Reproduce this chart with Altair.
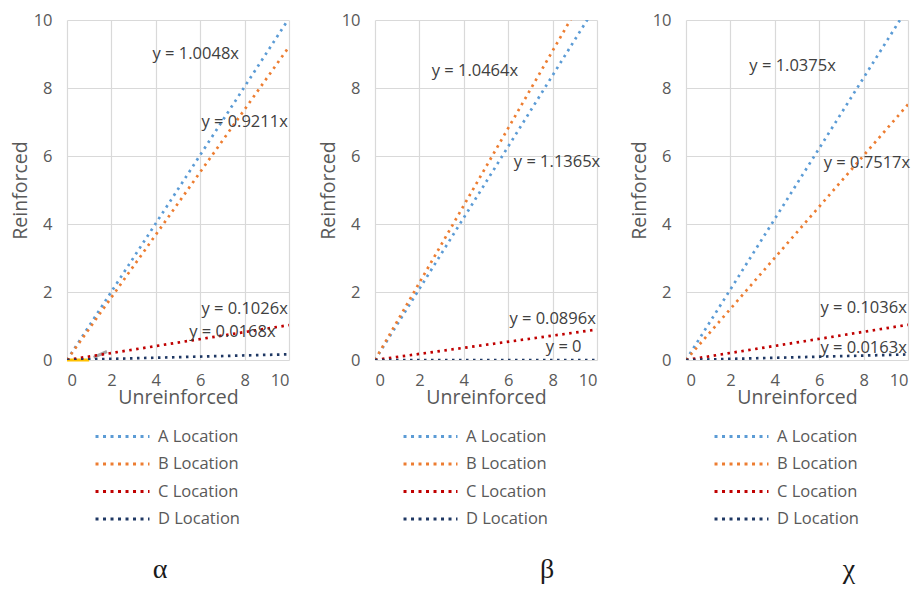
import altair as alt
import pandas as pd

# ---------------- data ----------------
series = ["A Location", "B Location", "C Location", "D Location"]
colors = ["#5B9BD5", "#ED7D31", "#C00000", "#1F3864"]
panels = ["α", "β", "χ"]

slopes_alpha = [1.0048, 0.9211, 0.1026, 0.0168]
slopes_beta = [1.0464, 1.1365, 0.0896, 0.0]
slopes_chi = [1.0375, 0.7517, 0.1036, 0.0163]

x_range = [0, 10]

eq_alpha = ["y = 1.0048x", "y = 0.9211x", "y = 0.1026x", "y = 0.0168x"]
eq_beta = ["y = 1.0464x", "y = 1.1365x", "y = 0.0896x", "y = 0"]
eq_chi = ["y = 1.0375x", "y = 0.7517x", "y = 0.1036x", "y = 0.0163x"]

eq_x_alpha = [5.8, 8.0, 8.0, 7.45]
eq_y_alpha = [9.0, 7.0, 1.5, 0.83]
eq_x_beta = [4.5, 8.2, 8.0, 8.5]
eq_y_beta = [8.5, 5.83, 1.2, 0.38]
eq_x_chi = [4.8, 8.15, 8.0, 8.0]
eq_y_chi = [8.65, 5.8, 1.53, 0.35]

# small raw-data segments visible near the origin of panel alpha
extra_names = ["yellow", "gray"]
extra_x = [[0.0, 1.0], [1.2, 1.8]]
extra_y = [[0.0, 0.0], [0.08, 0.25]]
extra_colors = ["#FFC000", "#A5A5A5"]

# ---------------- style ----------------
FONT = "Open Sans"
W, H = 222, 340

panel_data = {
    "α": (slopes_alpha, eq_alpha, eq_x_alpha, eq_y_alpha, 93),
    "β": (slopes_beta, eq_beta, eq_x_beta, eq_y_beta, 172),
    "χ": (slopes_chi, eq_chi, eq_x_chi, eq_y_chi, 163),
}


def make_panel(name):
    slopes, eqs, ex, ey, cap_x = panel_data[name]
    rows = []
    for s, k in zip(series, slopes):
        for xv in x_range:
            rows.append({"series": s, "x": xv, "y": k * xv})
    df = pd.DataFrame(rows)

    xenc = alt.X(
        "x:Q",
        scale=alt.Scale(domain=[0, 10], nice=False),
        axis=alt.Axis(
            values=[0, 2, 4, 6, 8, 10],
            title="Unreinforced",
            labelFontSize=16.5,
            titleFontSize=19.5,
            labelPadding=12,
            titlePadding=0,
        ),
    )
    yenc = alt.Y(
        "y:Q",
        scale=alt.Scale(domain=[0, 10], nice=False),
        axis=alt.Axis(
            values=[0, 2, 4, 6, 8, 10],
            title="Reinforced",
            labelFontSize=16.5,
            titleFontSize=19.5,
            labelPadding=15,
            titlePadding=3,
        ),
    )

    lines = (
        alt.Chart(df)
        .mark_line(strokeDash=[2.5, 4.5], strokeWidth=2.7, clip=True)
        .encode(
            x=xenc,
            y=yenc,
            color=alt.Color(
                "series:N",
                scale=alt.Scale(domain=series, range=colors),
                legend=alt.Legend(
                    title=None,
                    orient="none",
                    legendX=47,
                    legendY=408,
                    direction="vertical",
                    symbolType="M-4,0H4",
                    symbolSize=182,
                    symbolStrokeWidth=3,
                    symbolDash=[3, 4.5],
                    symbolFillColor="transparent",
                    labelFontSize=16.5,
                    labelFont=FONT,
                    labelColor="#595959",
                    labelOffset=27,
                    rowPadding=10.5,
                    padding=0,
                ),
            ),
        )
    )

    layers = []
    if name == "α":
        erows = []
        for nm, xs, ys in zip(extra_names, extra_x, extra_y):
            for xv, yv in zip(xs, ys):
                erows.append({"name": nm, "x": xv, "y": yv})
        edf = pd.DataFrame(erows)
        extra = (
            alt.Chart(edf)
            .mark_line(strokeWidth=3)
            .encode(
                x="x:Q",
                y="y:Q",
                detail="name:N",
                stroke=alt.Stroke(
                    "name:N",
                    scale=alt.Scale(domain=extra_names, range=extra_colors),
                    legend=None,
                ),
            )
        )
        layers.append(extra)

    layers.append(lines)

    tdf = pd.DataFrame({"x": ex, "y": ey, "t": eqs})
    texts = (
        alt.Chart(tdf)
        .mark_text(font=FONT, fontSize=16.5, color="#404040")
        .encode(x="x:Q", y="y:Q", text="t:N")
    )
    layers.append(texts)

    cap = (
        alt.Chart(pd.DataFrame({"t": [name]}))
        .mark_text(font="Liberation Serif", fontSize=28, color="#1a1a1a", baseline="alphabetic")
        .encode(text="t:N", x=alt.value(cap_x), y=alt.value(558))
    )
    layers.append(cap)

    return (
        alt.layer(*layers)
        .resolve_scale(stroke="independent")
        .properties(width=W, height=H)
    )


chart = (
    alt.hconcat(*[make_panel(p) for p in panels], spacing=27)
    .resolve_scale(color="independent")
    .resolve_legend(color="independent")
    .configure_view(stroke="transparent")
    .configure_axis(
        grid=True,
        gridColor="#d9d9d9",
        gridWidth=1.2,
        domain=False,
        ticks=False,
        labelFont=FONT,
        titleFont=FONT,
        labelColor="#595959",
        titleColor="#595959",
        titleFontWeight="normal",
    )
    .properties(
        background="white",
        padding={"left": 1, "top": 3, "right": 0, "bottom": 0},
    )
)

chart.save("out.html", embed_options={"renderer": "svg", "actions": False})
